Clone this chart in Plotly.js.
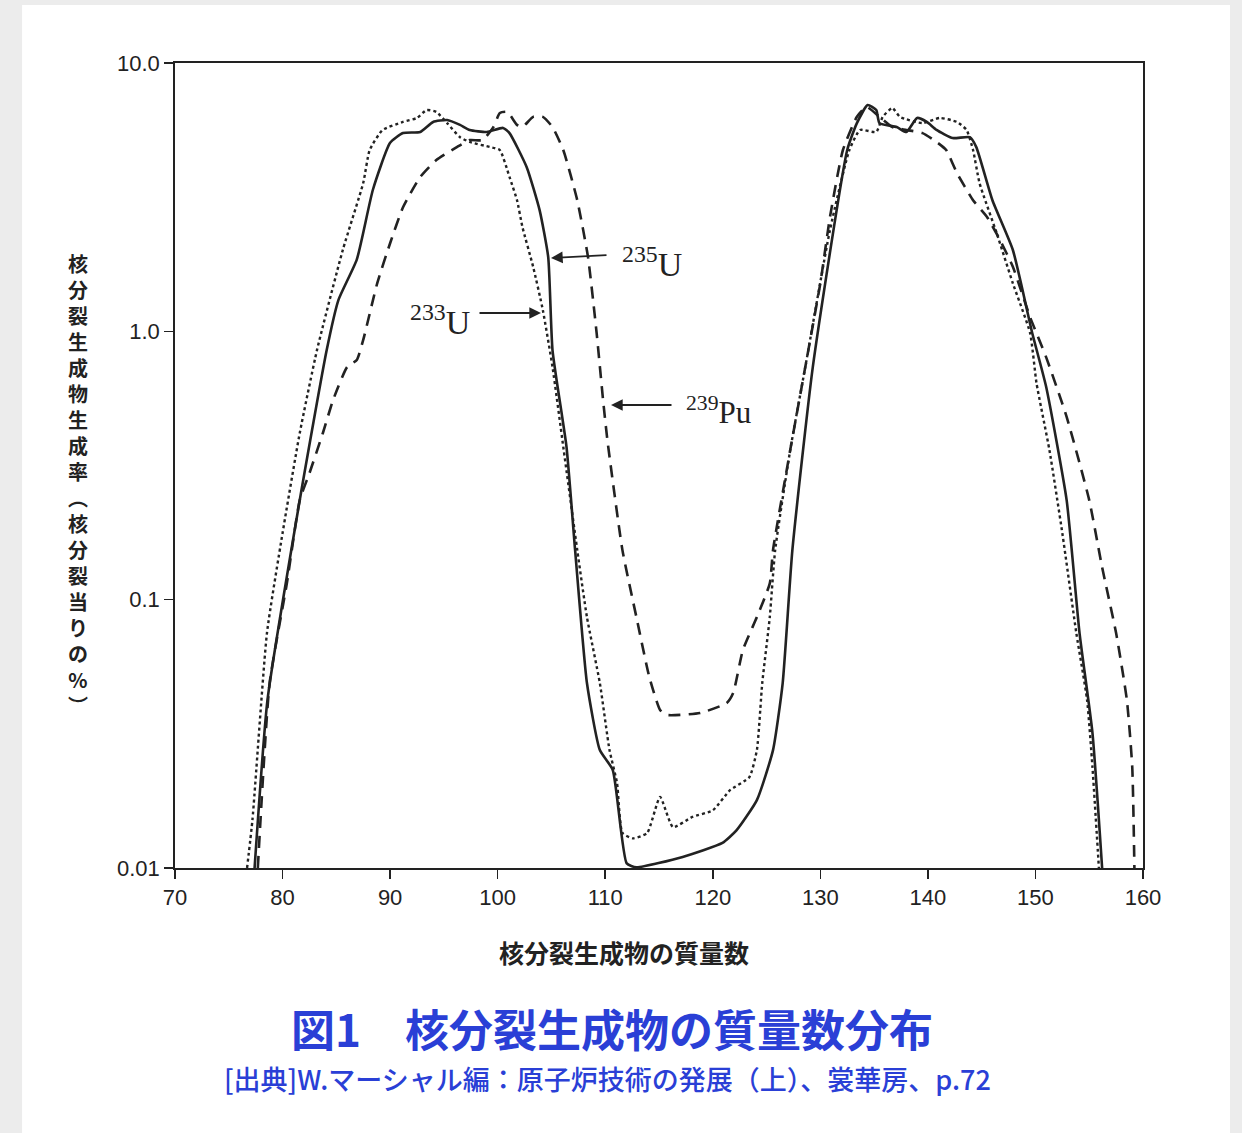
<!DOCTYPE html>
<html>
<head>
<meta charset="utf-8">
<script src="https://cdn.plot.ly/plotly-3.0.1.min.js"></script>
<style>
html,body{margin:0;padding:0;background:#ececec;}
#chart{width:1242px;height:1133px;}
</style>
</head>
<body>
<div id="chart"></div>
<script>
// Mass number (A) and fission yield (% per fission) for each nuclide
const u235_A = [77.4,78.6,81.6,84.1,85.2,86.9,88.4,90.0,91.2,92.8,94.0,95.3,96.5,97.4,99.0,100.5,101.1,102.7,103.9,104.7,105.1,106.4,107.2,108.3,109.5,110.7,112.0,112.9,117.2,120.9,122.2,124.1,125.6,126.5,127.4,129.3,132.5,133.4,134.4,135.2,135.5,137.1,138.0,139.0,139.9,140.8,142.3,143.9,144.5,146.0,147.9,149.7,151.0,152.9,154.1,155.3,156.2];
const u235_Y = [0.010,0.0423,0.235,0.85,1.31,1.85,3.37,5.04,5.48,5.53,6.03,6.13,5.88,5.63,5.53,5.73,5.48,4.09,2.83,1.89,0.85,0.371,0.153,0.0489,0.0275,0.0232,0.0104,0.01006,0.0110,0.0124,0.0138,0.0179,0.0275,0.0489,0.153,0.736,4.74,5.97,6.97,6.68,5.97,5.77,5.53,6.24,6.03,5.63,5.25,5.29,4.86,3.08,2.01,0.986,0.62,0.235,0.075,0.0319,0.010];

const u233_A = [76.7,77.2,78.55,80.0,81.6,83.2,85.6,87.5,88.1,89.3,91.2,92.5,93.4,94.3,95.3,96.5,97.4,99.3,100.2,101.1,101.8,102.3,103.3,104.2,105.1,106.1,107.4,108.3,109.5,110.4,111.1,111.6,112.6,113.9,115.1,116.3,118.1,120.0,121.6,123.4,124.1,124.6,125.3,125.8,127.2,128.6,130.9,132.7,133.7,135.2,135.8,136.7,137.4,139.5,141.1,142.7,143.6,144.2,144.8,146.4,147.9,149.5,150.1,151.3,152.5,153.8,154.8,155.3,155.9];
const u233_Y = [0.010,0.0151,0.0751,0.177,0.418,0.851,2.01,3.57,4.74,5.63,6.03,6.24,6.68,6.57,5.97,5.29,5.08,4.86,4.74,3.76,3.08,2.45,1.74,1.20,0.736,0.371,0.153,0.0861,0.0489,0.0275,0.0207,0.0135,0.0129,0.0135,0.0184,0.0142,0.0155,0.0164,0.0195,0.0218,0.0275,0.0489,0.0861,0.153,0.361,0.736,2.39,4.74,5.63,5.53,6.30,6.80,6.30,5.97,6.24,6.03,5.63,4.74,3.57,2.32,1.51,0.986,0.641,0.361,0.177,0.0751,0.0423,0.0238,0.010];

const pu239_A = [77.7,78.8,80.4,81.6,82.5,83.75,84.7,86.0,86.9,87.5,88.8,90.0,91.2,92.8,94.3,96.2,97.4,98.6,99.6,100.2,100.9,101.8,102.3,103.3,104.2,105.1,106.1,107.4,108.4,109.2,109.8,110.2,111.6,112.9,114.1,115.1,115.7,118.8,121.3,121.9,122.8,124.1,125.3,125.6,127.2,128.6,130.0,130.9,132.1,133.4,134.3,135.5,136.7,138.0,139.5,140.8,141.7,142.7,144.2,145.5,146.7,147.9,149.5,151.0,152.9,155.0,156.2,157.5,158.5,159.0,159.2];
const pu239_Y = [0.010,0.0489,0.115,0.235,0.296,0.418,0.555,0.736,0.782,0.929,1.51,2.13,2.90,3.76,4.35,4.86,5.16,5.16,5.77,6.51,6.57,5.88,5.77,6.30,6.30,5.77,4.74,3.08,1.89,0.986,0.555,0.394,0.153,0.0861,0.0515,0.0388,0.0372,0.0378,0.0412,0.0449,0.0649,0.0861,0.115,0.153,0.361,0.736,1.51,2.67,4.74,6.30,6.86,6.30,5.77,5.63,5.48,5.08,4.74,3.89,3.08,2.67,2.19,1.74,1.13,0.80,0.480,0.235,0.132,0.0751,0.0423,0.0238,0.010];

const xTicks = [70,80,90,100,110,120,130,140,150,160];
const yTickVals = [0.01,0.1,1,10];
const yTickText = ['0.01','0.1','1.0','10.0'];

const ink = '#222222';
const traces = [
  {x:u235_A, y:u235_Y, mode:'lines', name:'235U', line:{color:ink, width:2.6, shape:'spline', smoothing:0.5}},
  {x:u233_A, y:u233_Y, mode:'lines', name:'233U', line:{color:ink, width:2.4, dash:'dot', shape:'spline', smoothing:0.5}},
  {x:pu239_A, y:pu239_Y, mode:'lines', name:'239Pu', line:{color:ink, width:2.6, dash:'12px,8px', shape:'spline', smoothing:0.5}}
];

const blue = '#2a3fd6';
const serif = 'Liberation Serif, DejaVu Serif, serif';
const sans = 'Liberation Sans, Arial, sans-serif';
const jp = 'Noto Sans CJK JP, sans-serif';

const yLabel = '核分裂生成物生成率︵核分裂当りの%︶'.split('').join('<br>');

const layout = {
  width:1242, height:1133,
  margin:{l:175, r:99, t:63, b:265},
  paper_bgcolor:'#ececec',
  plot_bgcolor:'#ffffff',
  showlegend:false,
  xaxis:{range:[70,160], tickvals:xTicks, ticks:'outside', ticklen:9, tickwidth:1.5, tickcolor:ink,
         showline:true, linecolor:ink, linewidth:1.8, mirror:true, showgrid:false, zeroline:false,
         tickfont:{family:sans, size:22, color:ink}},
  yaxis:{type:'log', range:[-2,1], tickvals:yTickVals, ticktext:yTickText, ticks:'outside', ticklen:9, tickwidth:1.5, tickcolor:ink,
         showline:true, linecolor:ink, linewidth:1.8, mirror:true, showgrid:false, zeroline:false,
         tickfont:{family:sans, size:22, color:ink}},
  shapes:[
    {type:'rect', xref:'paper', yref:'paper', x0:-0.158, x1:1.0899, y0:-0.33, y1:1.072, fillcolor:'#ffffff', line:{width:0}, layer:'below'}
  ],
  annotations:[
    {xref:'paper', yref:'paper', x:(78-175)/968, y:(868-484)/805, text:yLabel, showarrow:false,
     font:{family:jp, size:20, color:ink, weight:'bold'}, align:'center', xanchor:'center', yanchor:'middle'},
    {xref:'paper', yref:'paper', x:(624-175)/968, y:(868-952)/805, text:'核分裂生成物の質量数', showarrow:false,
     font:{family:jp, size:25, color:ink, weight:'bold'}, xanchor:'center', yanchor:'middle'},
    {xref:'paper', yref:'paper', x:(612-175)/968, y:(868-1028)/805, text:'図1　核分裂生成物の質量数分布', showarrow:false,
     font:{family:jp, size:44, color:blue, weight:'bold'}, xanchor:'center', yanchor:'middle'},
    {xref:'paper', yref:'paper', x:(607-175)/968, y:(868-1078)/805, text:'[出典]W.マーシャル編：原子炉技術の発展（上）、裳華房、p.72', showarrow:false,
     font:{family:jp, size:27, color:blue, weight:500}, xanchor:'center', yanchor:'middle'},
    // nuclide labels
    {xref:'paper', yref:'paper', x:(620-175)/968, y:(868-262)/805, text:'<sup>235</sup>U', showarrow:false,
     font:{family:serif, size:34, color:ink}, xanchor:'left', yanchor:'middle'},
    {xref:'paper', yref:'paper', x:(472-175)/968, y:(868-320)/805, text:'<sup>233</sup>U', showarrow:false,
     font:{family:serif, size:34, color:ink}, xanchor:'right', yanchor:'middle'},
    {xref:'paper', yref:'paper', x:(684-175)/968, y:(868-410)/805, text:'<sup>239</sup>Pu', showarrow:false,
     font:{family:serif, size:31, color:ink}, xanchor:'left', yanchor:'middle'},
    // arrows
    {xref:'paper', yref:'paper', x:(551-175)/968, y:(868-258)/805, text:'', showarrow:true, arrowhead:2, arrowsize:1.3, arrowwidth:1.8, arrowcolor:ink, ax:57, ay:-3},
    {xref:'paper', yref:'paper', x:(541-175)/968, y:(868-313)/805, text:'', showarrow:true, arrowhead:2, arrowsize:1.3, arrowwidth:1.8, arrowcolor:ink, ax:-63, ay:0},
    {xref:'paper', yref:'paper', x:(611-175)/968, y:(868-405)/805, text:'', showarrow:true, arrowhead:2, arrowsize:1.3, arrowwidth:1.8, arrowcolor:ink, ax:62, ay:0}
  ]
};

Plotly.newPlot('chart', traces, layout, {staticPlot:true});
</script>
</body>
</html>
